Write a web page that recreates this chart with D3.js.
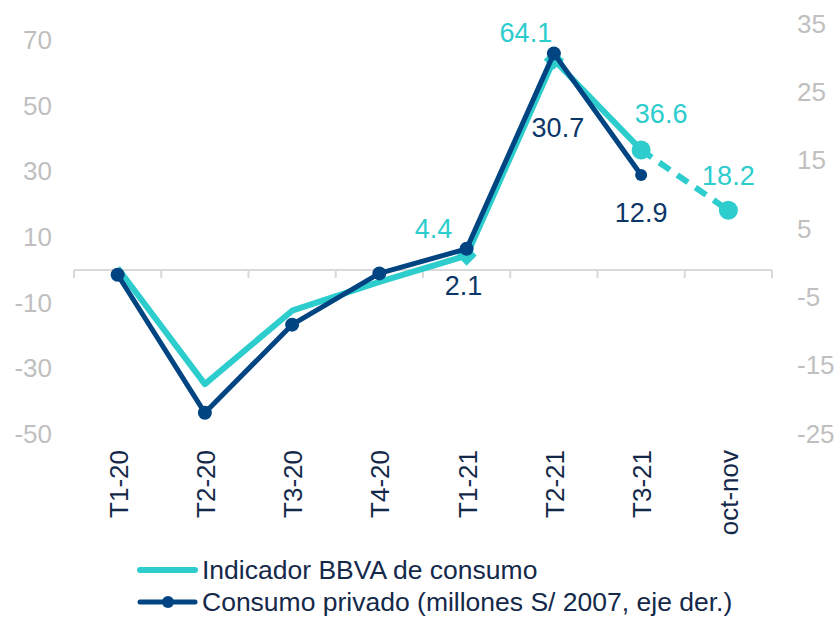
<!DOCTYPE html>
<html>
<head>
<meta charset="utf-8">
<script src="https://cdn.jsdelivr.net/npm/d3@7"></script>
<style>
  html, body { margin: 0; padding: 0; background: #fff; }
  svg { display: block; font-family: "Liberation Sans", Arial, sans-serif; }
</style>
</head>
<body>
<svg id="chart" width="839" height="618"></svg>
<script>
// Data
const categories = ["T1-20", "T2-20", "T3-20", "T4-20", "T1-21", "T2-21", "T3-21", "oct-nov"];
const indicador = [0.6, -34.8, -12.4, -3.6, 4.4, 64.1, 36.6, 18.2];     // left axis
const consumo = [-1.7, -21.9, -9.0, -1.5, 2.1, 30.7, 12.9, null];       // right axis
const leftTicks = [-50, -30, -10, 10, 30, 50, 70];
const rightTicks = [-25, -15, -5, 5, 15, 25, 35];
const indicadorLabelled = ["T1-21", "T2-21", "T3-21", "oct-nov"];
const consumoLabelled = ["T1-21", "T2-21", "T3-21"];

const CYAN = "#2dcccd";
const NAVY = "#004481";
const NAVY_TEXT = "#0b3668";
const GREY = "#bfbfbf";
const TEXT = "#14294a";

const svg = d3.select("#chart");
const plotTop = 24, plotBottom = 434, plotLeft = 74, plotRight = 772;

// Scales
const x = d3.scalePoint().domain(categories).range([plotLeft, plotRight]).padding(0.5);
const band = d3.scaleBand().domain(categories).range([plotLeft, plotRight]);
const yL = d3.scaleLinear().domain([-50, 75]).range([plotBottom, plotTop]);
const yR = d3.scaleLinear().domain([-25, 35]).range([plotBottom, plotTop]);

// Y axes (labels only), plain hyphen for negatives like the original
const plain = d => String(d);
const gL = svg.append("g").attr("transform", "translate(60,0)")
  .call(d3.axisLeft(yL).tickValues(leftTicks).tickFormat(plain).tickSize(0).tickPadding(8));
const gR = svg.append("g").attr("transform", "translate(789,0)")
  .call(d3.axisRight(yR).tickValues(rightTicks).tickFormat(plain).tickSize(0).tickPadding(8));
[gL, gR].forEach(g => {
  g.select(".domain").remove();
  g.selectAll("text").attr("fill", GREY).style("font-size", "26px")
    .style("font-family", "'Liberation Sans', Arial, sans-serif");
});

// Category axis at zero
const y0 = yL(0);
svg.append("line")
  .attr("x1", plotLeft).attr("x2", plotRight).attr("y1", y0).attr("y2", y0)
  .attr("stroke", "#d9d9d9").attr("stroke-width", 2);
const bounds = categories.map(c => band(c)).concat([plotRight]);
svg.selectAll(".xtick").data(bounds).join("line")
  .attr("x1", d => d).attr("x2", d => d)
  .attr("y1", y0).attr("y2", y0 + 8)
  .attr("stroke", "#d9d9d9").attr("stroke-width", 2);

const gX = svg.append("g").attr("transform", "translate(0,440)")
  .call(d3.axisBottom(x).tickSize(0));
gX.select(".domain").remove();
gX.selectAll("text")
  .attr("transform", "rotate(-90)")
  .attr("x", -10).attr("y", 0).attr("dy", "0.36em")
  .attr("text-anchor", "end")
  .attr("fill", TEXT)
  .style("font-size", "26px")
  .style("font-family", "'Liberation Sans', Arial, sans-serif");

// Indicador BBVA (solid through T3-21, dashed to oct-nov)
const lastSolid = categories.indexOf("T3-21");
const lineLdef = d3.line().x(d => x(d.c)).y(d => yL(d.v));
const indPts = categories.map((c, i) => ({ c, v: indicador[i] }));
svg.append("path")
  .datum(indPts.slice(0, lastSolid + 1))
  .attr("d", lineLdef)
  .attr("fill", "none").attr("stroke", CYAN).attr("stroke-width", 6)
  .attr("stroke-linejoin", "round");
svg.append("path")
  .datum(indPts.slice(lastSolid))
  .attr("d", lineLdef)
  .attr("fill", "none").attr("stroke", CYAN).attr("stroke-width", 6)
  .attr("stroke-dasharray", "13,9");

// Indicador markers: diamonds on T1-21/T2-21, circles after
const diamondCats = ["T1-21", "T2-21"];
const circleCats = ["T3-21", "oct-nov"];
svg.selectAll(".dia").data(indPts.filter(d => diamondCats.includes(d.c))).join("path")
  .attr("d", d3.symbol(d3.symbolDiamond2, 260))
  .attr("transform", d => `translate(${x(d.c)},${yL(d.v)})`)
  .attr("fill", CYAN);
svg.selectAll(".cir").data(indPts.filter(d => circleCats.includes(d.c))).join("circle")
  .attr("cx", d => x(d.c)).attr("cy", d => yL(d.v)).attr("r", 9.5)
  .attr("fill", CYAN);

// Consumo privado (right axis)
const conPts = categories.map((c, i) => ({ c, v: consumo[i] })).filter(d => d.v != null);
svg.append("path")
  .datum(conPts)
  .attr("d", d3.line().x(d => x(d.c)).y(d => yR(d.v)))
  .attr("fill", "none").attr("stroke", NAVY).attr("stroke-width", 5)
  .attr("stroke-linejoin", "round");
svg.selectAll(".dot").data(conPts).join("circle")
  .attr("cx", d => x(d.c)).attr("cy", d => yR(d.v))
  .attr("r", d => d.c === "T3-21" ? 6 : 7)
  .attr("fill", NAVY);

// Data labels
const fmt = d3.format(".1f");
const indOffsets = { "T1-21": [-33, -18], "T2-21": [-28, -18], "T3-21": [20, -27], "oct-nov": [0, -25] };
const conOffsets = { "T1-21": [-3, 46], "T2-21": [4, 84], "T3-21": [0, 47] };
svg.selectAll(".lblL").data(indPts.filter(d => indicadorLabelled.includes(d.c))).join("text")
  .attr("x", d => x(d.c) + indOffsets[d.c][0])
  .attr("y", d => yL(d.v) + indOffsets[d.c][1])
  .attr("text-anchor", "middle")
  .attr("fill", CYAN).style("font-size", "27px")
  .text(d => fmt(d.v));
svg.selectAll(".lblR").data(conPts.filter(d => consumoLabelled.includes(d.c))).join("text")
  .attr("x", d => x(d.c) + conOffsets[d.c][0])
  .attr("y", d => yR(d.v) + conOffsets[d.c][1])
  .attr("text-anchor", "middle")
  .attr("fill", NAVY_TEXT).style("font-size", "27px")
  .text(d => fmt(d.v));

// Legend
const legend = svg.append("g").attr("transform", "translate(140,570)");
legend.append("line").attr("x1", 0).attr("x2", 55).attr("y1", 0).attr("y2", 0)
  .attr("stroke", CYAN).attr("stroke-width", 6).attr("stroke-linecap", "round");
legend.append("text").attr("x", 62).attr("y", 9)
  .attr("fill", TEXT).style("font-size", "26.5px")
  .text("Indicador BBVA de consumo");
legend.append("line").attr("x1", 0).attr("x2", 55).attr("y1", 32).attr("y2", 32)
  .attr("stroke", NAVY).attr("stroke-width", 5).attr("stroke-linecap", "round");
legend.append("circle").attr("cx", 28).attr("cy", 32).attr("r", 6).attr("fill", NAVY);
legend.append("text").attr("x", 62).attr("y", 41)
  .attr("fill", TEXT).style("font-size", "26.5px")
  .text("Consumo privado (millones S/ 2007, eje der.)");
</script>
</body>
</html>
